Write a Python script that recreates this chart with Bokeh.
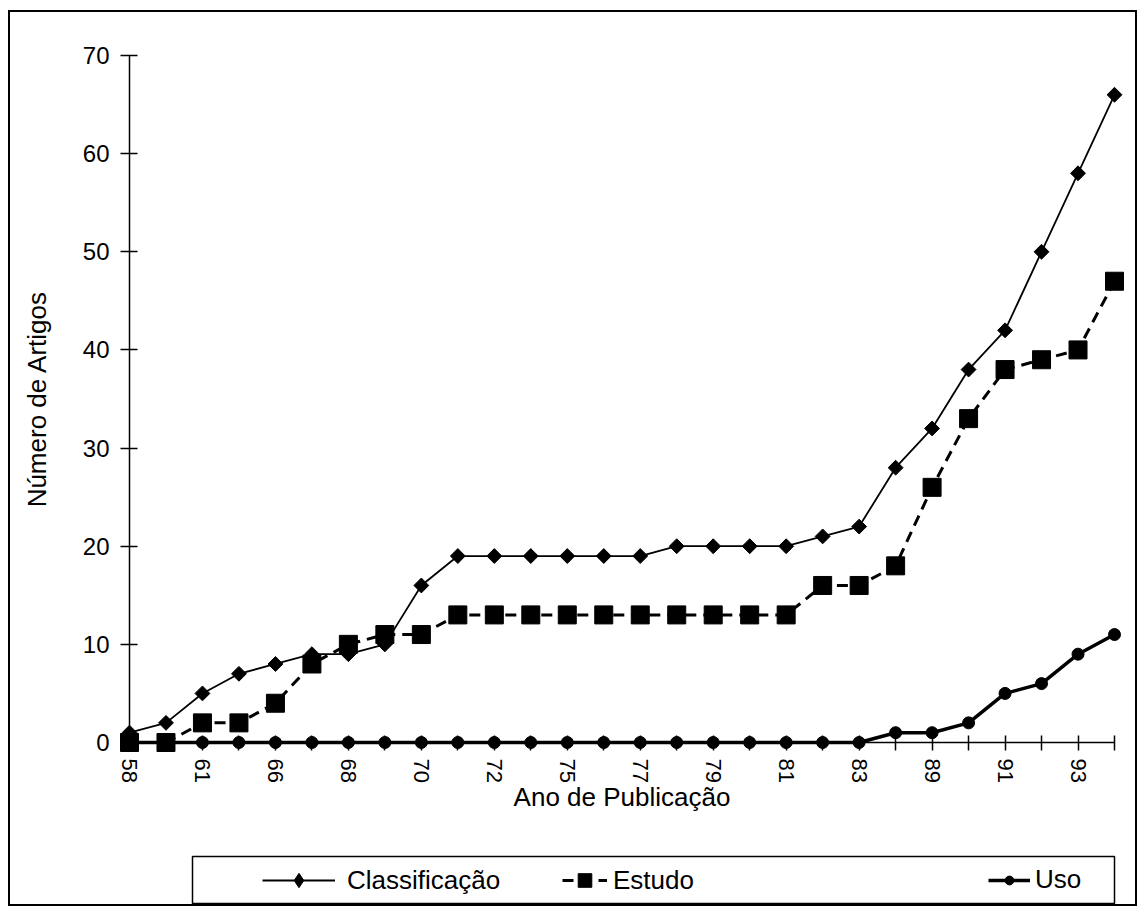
import math
from bokeh.plotting import figure
from bokeh.layouts import column
from bokeh.models import (Range1d, FixedTicker, CustomJSTickFormatter, Legend,
                          LegendItem)
from bokeh.embed import file_html
from bokeh.resources import INLINE

# ---- data -------------------------------------------------------------
anos = ["58", "60", "61", "65", "66", "67", "68", "69", "70", "71",
        "72", "74", "75", "76", "77", "78", "79", "80", "81", "82",
        "83", "86", "89", "90", "91", "92", "93", "94"]
classificacao = [1, 2, 5, 7, 8, 9, 9, 10, 16, 19,
                 19, 19, 19, 19, 19, 20, 20, 20, 20, 21,
                 22, 28, 32, 38, 42, 50, 58, 66]
estudo = [0, 0, 2, 2, 4, 8, 10, 11, 11, 13,
          13, 13, 13, 13, 13, 13, 13, 13, 13, 16,
          16, 18, 26, 33, 38, 39, 40, 47]
uso = [0, 0, 0, 0, 0, 0, 0, 0, 0, 0,
       0, 0, 0, 0, 0, 0, 0, 0, 0, 0,
       0, 1, 1, 2, 5, 6, 9, 11]
y_ticks = [0, 10, 20, 30, 40, 50, 60, 70]
series_names = ["Classificação", "Estudo", "Uso"]

FONT = "Liberation Sans"
idx = list(range(len(anos)))
rotulos = [a if i % 2 == 0 else "" for i, a in enumerate(anos)]
series_values = [classificacao, estudo, uso]

# ---- main chart -------------------------------------------------------
p = figure(width=1125, height=843, output_backend="svg", toolbar_location=None,
           x_range=Range1d(0, len(anos) - 1), y_range=Range1d(0, 70),
           min_border_left=119, min_border_right=21,
           min_border_top=43, min_border_bottom=113)
p.outline_line_color = None
p.xgrid.grid_line_color = None
p.ygrid.grid_line_color = None
p.background_fill_color = "white"
p.border_fill_color = "white"

p.xaxis.ticker = FixedTicker(ticks=idx, minor_ticks=[])
p.xaxis.formatter = CustomJSTickFormatter(args=dict(labels=rotulos),
                                          code="return labels[Math.round(tick)] || '';")
p.xaxis.major_label_orientation = "vertical"
p.yaxis.ticker = FixedTicker(ticks=y_ticks, minor_ticks=[])
for ax in (p.xaxis, p.yaxis):
    ax.axis_line_color = "black"
    ax.axis_line_width = 1.5
    ax.major_tick_line_color = "black"
    ax.major_tick_line_width = 1.5
    ax.minor_tick_line_color = None
    ax.major_label_text_font = FONT
    ax.major_label_text_color = "black"
    ax.axis_label_text_font = FONT
    ax.axis_label_text_font_size = "26px"
    ax.axis_label_text_font_style = "normal"
    ax.axis_label_text_color = "black"
p.xaxis.major_label_text_font_size = "22px"
p.yaxis.major_label_text_font_size = "24px"
p.xaxis.major_tick_in = 7
p.xaxis.major_tick_out = 8
p.yaxis.major_tick_in = 8
p.yaxis.major_tick_out = 9
p.xaxis.major_label_standoff = 8
p.yaxis.major_label_standoff = 11
p.xaxis.axis_label = "Ano de Publicação"
p.yaxis.axis_label = "Número de Artigos"
p.xaxis.axis_label_standoff = -4
p.yaxis.axis_label_standoff = 28

STY = [
    dict(line=dict(line_color="black", line_width=1.8),
         mark=dict(marker="square", size=10.5, angle=math.pi / 4,
                   fill_color="black", line_color="black")),
    dict(line=dict(line_color="black", line_width=3, line_dash="11 7"),
         mark=dict(marker="square", size=18, fill_color="black", line_color="black")),
    dict(line=dict(line_color="black", line_width=3.5),
         mark=dict(marker="circle", size=12, fill_color="black", line_color="black")),
]
LEG_MARK = [
    dict(marker="diamond", size=12, fill_color="black", line_color="black"),
    STY[1]["mark"],
    STY[2]["mark"],
]
for vals, st in zip(series_values, STY):
    p.line(idx, vals, level="overlay", **st["line"])
    p.scatter(idx, vals, level="overlay", **st["mark"])

# ---- legend box (separate small figure below the chart) ---------------
q = figure(width=1062, height=49, output_backend="svg", toolbar_location=None,
           x_range=Range1d(0, 1), y_range=Range1d(0, 1),
           x_axis_location=None, y_axis_location=None,
           min_border_left=1, min_border_right=1, min_border_top=1, min_border_bottom=1)
q.xgrid.grid_line_color = None
q.ygrid.grid_line_color = None
q.outline_line_color = "black"
q.outline_line_width = 1.5
q.background_fill_color = "white"
q.border_fill_color = "white"
q.margin = (0, 0, 0, 63)

legend_layout = [  # x, y, glyph_width, glyph_height, standoff
    (70, 5, 73, 36, 12),
    (370, 6, 45, 34, 6),
    (796, 8, 42, 22, 5),
]
for name, vals, st, lm, (lx, ly, gw, gh, so) in zip(series_names, series_values, STY,
                                                      LEG_MARK, legend_layout):
    lr = q.line(idx, vals, visible=False, **st["line"])
    mr = q.scatter(idx, vals, visible=False, **lm)
    lg = Legend(items=[LegendItem(label=name, renderers=[lr, mr])],
                location=(lx, ly), orientation="horizontal", padding=0, margin=0,
                glyph_width=gw, glyph_height=gh, label_standoff=so,
                border_line_color=None, background_fill_alpha=0,
                label_text_font=FONT, label_text_font_size="26px",
                label_text_color="black", click_policy="none")
    q.add_layout(lg)

layout = column(p, q, spacing=0,
                styles={"outline": "2px solid black", "outline-offset": "0px",
                        "background-color": "white"})
layout.margin = (12, 10, 0, 10)

open("out.html", "w").write(file_html(layout, INLINE))
